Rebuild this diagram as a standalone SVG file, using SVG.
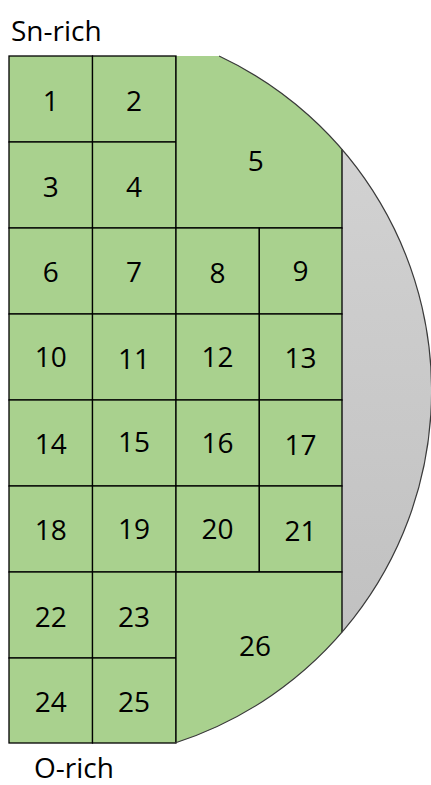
<svg xmlns="http://www.w3.org/2000/svg" width="431" height="785" viewBox="0 0 431 785">
  <defs>
    <linearGradient id="gray" x1="0" y1="0" x2="0" y2="1">
      <stop offset="0" stop-color="#d5d5d5"/>
      <stop offset="1" stop-color="#bdbdbd"/>
    </linearGradient>
    <style>
      .cell { fill: #a9d18e; stroke: #000; stroke-width: 1.3; }
      .fillonly { fill: #a9d18e; stroke: none; }
      .edge { fill: none; stroke: #000; stroke-width: 1.3; }
      .rim { fill: none; stroke: #3a3a3a; stroke-width: 1.2; }
      .lbl { font-family: "Open Sans", "Liberation Sans", sans-serif; font-size: 28px; fill: #000; text-anchor: middle; }
      .title { font-family: "Open Sans", "Liberation Sans", sans-serif; font-size: 28px; fill: #000; }
    </style>
  </defs>
  <rect width="431" height="785" fill="#fff"/>

  <g id="wafer">
    <path d="M219.1,56 A370,370 0 0 1 175,743 Z" fill="url(#gray)"/>
  </g>

  <g id="cell1"><rect class="cell" x="9" y="56" width="83.5" height="86"/><text class="lbl" x="50.7" y="110.7">1</text></g>
  <g id="cell2"><rect class="cell" x="92.5" y="56" width="83.5" height="86"/><text class="lbl" x="134" y="110.7">2</text></g>
  <g id="cell3"><rect class="cell" x="9" y="142" width="83.5" height="86"/><text class="lbl" x="50.7" y="197">3</text></g>
  <g id="cell4"><rect class="cell" x="92.5" y="142" width="83.5" height="86"/><text class="lbl" x="134" y="197">4</text></g>
  <g id="cell5">
    <path class="fillonly" d="M176,56 H219.1 A370,370 0 0 1 342,149.4 V228 H176 Z"/>
    <path class="edge" d="M176,56 V228 H342 V149.4"/>
    <text class="lbl" x="255.7" y="170.7">5</text>
  </g>

  <g id="cell6"><rect class="cell" x="9" y="228" width="83.5" height="86"/><text class="lbl" x="50.7" y="282">6</text></g>
  <g id="cell7"><rect class="cell" x="92.5" y="228" width="83.5" height="86"/><text class="lbl" x="134" y="282">7</text></g>
  <g id="cell8"><rect class="cell" x="176" y="228" width="83.3" height="86"/><text class="lbl" x="217.6" y="282.5">8</text></g>
  <g id="cell9"><rect class="cell" x="259.3" y="228" width="82.7" height="86"/><text class="lbl" x="300.6" y="281">9</text></g>

  <g id="cell10"><rect class="cell" x="9" y="314" width="83.5" height="86"/><text class="lbl" x="50.7" y="367">10</text></g>
  <g id="cell11"><rect class="cell" x="92.5" y="314" width="83.5" height="86"/><text class="lbl" x="134" y="369.3">11</text></g>
  <g id="cell12"><rect class="cell" x="176" y="314" width="83.3" height="86"/><text class="lbl" x="217.6" y="367.3">12</text></g>
  <g id="cell13"><rect class="cell" x="259.3" y="314" width="82.7" height="86"/><text class="lbl" x="300.6" y="367.5">13</text></g>

  <g id="cell14"><rect class="cell" x="9" y="400" width="83.5" height="86"/><text class="lbl" x="50.7" y="454">14</text></g>
  <g id="cell15"><rect class="cell" x="92.5" y="400" width="83.5" height="86"/><text class="lbl" x="134" y="452">15</text></g>
  <g id="cell16"><rect class="cell" x="176" y="400" width="83.3" height="86"/><text class="lbl" x="217.6" y="453">16</text></g>
  <g id="cell17"><rect class="cell" x="259.3" y="400" width="82.7" height="86"/><text class="lbl" x="300.6" y="455">17</text></g>

  <g id="cell18"><rect class="cell" x="9" y="486" width="83.5" height="86"/><text class="lbl" x="50.7" y="540">18</text></g>
  <g id="cell19"><rect class="cell" x="92.5" y="486" width="83.5" height="86"/><text class="lbl" x="134" y="539">19</text></g>
  <g id="cell20"><rect class="cell" x="176" y="486" width="83.3" height="86"/><text class="lbl" x="217.6" y="539">20</text></g>
  <g id="cell21"><rect class="cell" x="259.3" y="486" width="82.7" height="86"/><text class="lbl" x="300.6" y="541">21</text></g>

  <g id="cell22"><rect class="cell" x="9" y="572" width="83.5" height="86"/><text class="lbl" x="50.7" y="626.7">22</text></g>
  <g id="cell23"><rect class="cell" x="92.5" y="572" width="83.5" height="86"/><text class="lbl" x="134" y="626.7">23</text></g>
  <g id="cell24"><rect class="cell" x="9" y="658" width="83.5" height="85"/><text class="lbl" x="50.7" y="711.7">24</text></g>
  <g id="cell25"><rect class="cell" x="92.5" y="658" width="83.5" height="85"/><text class="lbl" x="134" y="711.7">25</text></g>
  <g id="cell26">
    <path class="fillonly" d="M176,572 H342 V632.2 A370,370 0 0 1 175,743 H176 Z"/>
    <path class="edge" d="M342,632.2 V572 H176 V743"/>
    <text class="lbl" x="255" y="656">26</text>
  </g>

  <g id="wafer-rim">
    <path class="rim" d="M219.1,56 A370,370 0 0 1 175,743"/>
  </g>

  <g id="label-sn"><text class="title" x="11" y="40.5">Sn-rich</text></g>
  <g id="label-o"><text class="title" x="34" y="778">O-rich</text></g>

  <g id="connectors"/>
</svg>
